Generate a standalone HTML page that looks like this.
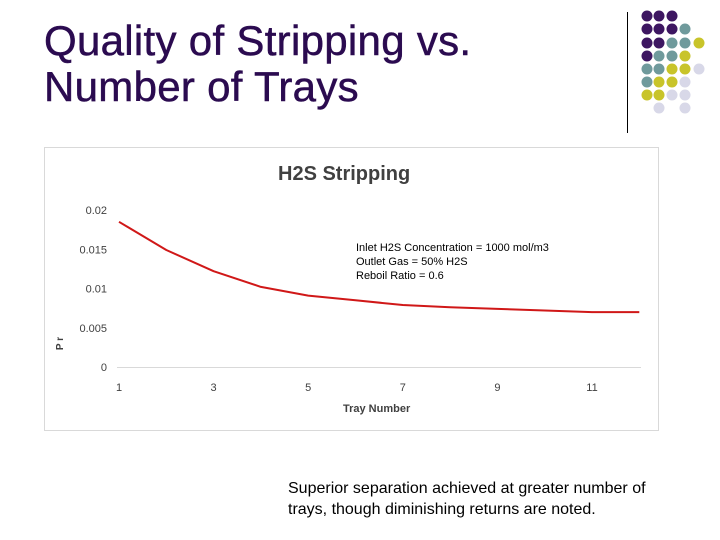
<!DOCTYPE html>
<html><head><meta charset="utf-8"><style>
body{margin:0;width:720px;height:540px;background:#fff;position:relative;overflow:hidden;font-family:"Liberation Sans",sans-serif}
.t{position:absolute;white-space:nowrap}
</style></head><body>
<div class="t" style="left:44px;top:18px;font-size:42px;line-height:46px;letter-spacing:0.3px;color:#2b0b50;-webkit-text-stroke:0.5px #2b0b50">Quality of Stripping vs.<br>Number of Trays</div>
<div style="position:absolute;left:627px;top:12px;width:1px;height:121px;background:#000"></div>
<svg id="dots" style="position:absolute;left:0;top:0" width="720" height="140"></svg>
<div style="position:absolute;left:44px;top:147px;width:613px;height:282px;border:1px solid #d9d9d9"></div>
<svg id="chart" style="position:absolute;left:0;top:0" width="720" height="540"></svg>
<div class="t" style="left:278px;top:163px;font-size:20px;font-weight:bold;color:#404040">H2S Stripping</div>
<div class="t" style="left:356px;top:241px;font-size:11px;line-height:14px;color:#000">Inlet H2S Concentration = 1000 mol/m3<br>Outlet Gas = 50% H2S<br>Reboil Ratio = 0.6</div>
<div class="t" style="left:343px;top:403px;font-size:11px;font-weight:bold;color:#404040">Tray Number</div>
<div class="t" style="left:54px;top:338px;font-size:10px;font-weight:bold;color:#404040;transform:rotate(-90deg)">P r</div>
<div class="t" style="left:288px;top:478px;font-size:16px;line-height:21px;color:#000">Superior separation achieved at greater number of<br>trays, though diminishing returns are noted.</div>
<script>
const trays=[1,2,3,4,5,6,7,8,9,10,11,12];
const values=[0.0185,0.0149,0.0122,0.0102,0.0091,0.0085,0.0079,0.0076,0.0074,0.0072,0.0070,0.0070];
const yTicks=[0,0.005,0.01,0.015,0.02];
const yTickLabels=["0","0.005","0.01","0.015","0.02"];
const xTicks=[1,3,5,7,9,11];
const NS="http://www.w3.org/2000/svg";
const sx=v=>119+(v-1)*47.3, sy=v=>367-v*7850;
const svg=document.getElementById('chart');
function mk(tag,a){const e=document.createElementNS(NS,tag);for(const k in a)e.setAttribute(k,a[k]);svg.appendChild(e);return e;}
let ax=mk('line',{x1:117,x2:641,y1:367.5,y2:367.5,stroke:'#d9d9d9'});


yTicks.forEach((v,i)=>{const t=mk('text',{x:107,y:sy(v)+4,'text-anchor':'end','font-size':11,fill:'#404040','font-family':'Liberation Sans'});t.textContent=yTickLabels[i];

});
xTicks.forEach(v=>{const t=mk('text',{x:sx(v),y:391,'text-anchor':'middle','font-size':11,fill:'#404040','font-family':'Liberation Sans'});t.textContent=v;

});
let d='';trays.forEach((t,i)=>{d+=(i?' L':'M')+sx(t).toFixed(1)+' '+sy(values[i]).toFixed(1);});
const p=mk('path',{d:d,fill:'none',stroke:'#d01818','stroke-width':2,'stroke-linejoin':'round'});


const dots=document.getElementById('dots');
const C={P:'#3d1661',T:'#6f9a9c',Y:'#c8c42a',L:'#d8d8e8'};
const rows=["PPP","PPPT","PPTTY","PTTY","TTYYL","TYYL","YYLL","_L_L"];
const cx=[647,659,672,685,699],cy=[16,29,43,56,69,82,95,108];
rows.forEach((r,ri)=>[...r].forEach((c,ci)=>{if(c==='_')return;const e=document.createElementNS(NS,'circle');
e.setAttribute('cx',cx[ci]);e.setAttribute('cy',cy[ri]);e.setAttribute('r',5.5);e.setAttribute('fill',C[c]);


dots.appendChild(e);}));
</script>
</body></html>
